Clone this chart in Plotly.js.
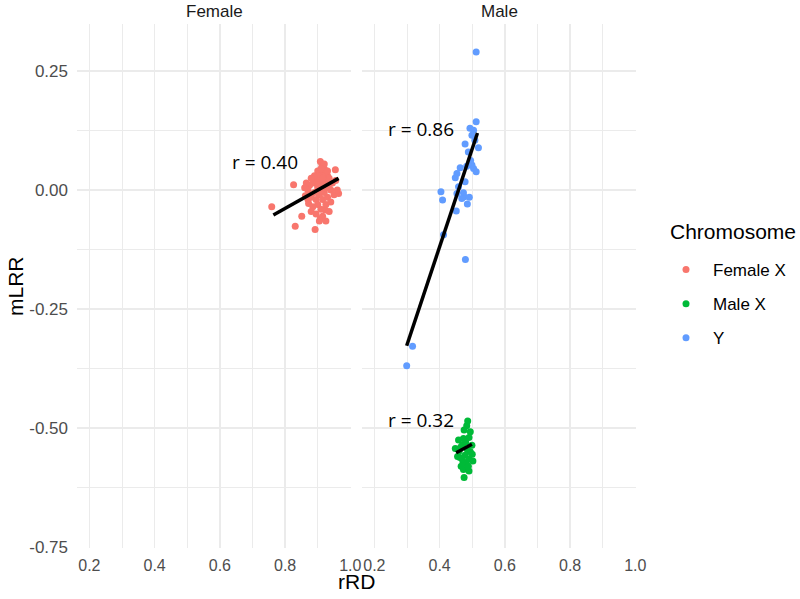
<!DOCTYPE html>
<html>
<head>
<meta charset="utf-8">
<script src="https://cdn.plot.ly/plotly-3.0.1.min.js"></script>
<style>html,body{margin:0;padding:0;background:#fff;}#chart{width:800px;height:599px;}</style>
</head>
<body>
<div id="chart"></div>
<script>
// ---- data ----
const femaleXrRD = [0.759,0.826,0.831,0.851,0.892,0.913,0.908,0.954,0.964,0.908,0.923,0.872,0.862,0.880,
  0.900,0.915,0.920,0.905,0.895,0.910,0.925,0.930,0.935,0.940,0.900,0.885,0.875,0.865,0.890,0.905,
  0.915,0.920,0.930,0.895,0.880,0.870,0.900,0.910,0.925,0.940,0.885,0.895,0.915,0.930,0.945,0.950,
  0.920,0.910,0.900,0.930,0.935,0.910,0.920,0.890,0.880,0.860,0.870,0.935,0.905,0.925,0.955,0.960,0.915,0.900];
const femaleXmLRR = [-0.035,0.011,-0.076,-0.055,-0.083,0.053,0.060,0.043,-0.007,-0.060,-0.042,-0.028,-0.012,-0.045,
  0.040,0.035,0.045,0.025,0.020,0.015,0.020,0.030,0.010,0.000,0.005,0.015,0.010,0.015,-0.005,-0.010,
  -0.020,-0.005,-0.015,-0.020,-0.015,0.000,-0.030,-0.040,-0.030,-0.025,-0.035,-0.050,-0.055,0.005,0.015,-0.010,
  0.055,0.045,0.030,0.040,0.025,0.000,0.010,0.030,0.025,0.005,-0.020,-0.045,-0.065,-0.065,0.020,0.000,0.025,0.010];

const maleXrRD = [0.486,0.475,0.494,0.483,0.458,0.473,0.490,0.448,0.465,0.499,0.494,0.478,0.460,0.455,
  0.470,0.485,0.502,0.471,0.482,0.466,0.490,0.473,0.490,0.475,0.480,0.500,0.462,0.488];
const maleXmLRR = [-0.485,-0.504,-0.508,-0.495,-0.525,-0.522,-0.520,-0.543,-0.540,-0.536,-0.550,-0.557,-0.548,-0.560,
  -0.535,-0.545,-0.569,-0.569,-0.575,-0.580,-0.565,-0.587,-0.590,-0.604,-0.530,-0.555,-0.562,-0.580];

const yRD = [0.512,0.512,0.493,0.504,0.499,0.478,0.519,0.488,0.463,0.483,0.499,0.504,0.512,0.453,0.448,
  0.478,0.458,0.404,0.409,0.453,0.473,0.475,0.491,0.468,0.485,0.451,0.412,0.479,0.317,0.299,0.508,0.495];
const yLRR = [0.290,0.1435,0.130,0.126,0.1155,0.0966,0.089,0.080,0.047,0.050,0.0525,0.0455,0.0385,0.035,0.026,
  0.0175,0.007,-0.0035,-0.021,-0.007,-0.0055,-0.014,-0.015,-0.0175,-0.029,-0.044,-0.094,-0.146,-0.328,-0.369,0.105,0.062];

// fitted lines (end points) and correlation labels
const fitFemaleX = [0.764, 0.964], fitFemaleY = [-0.0525, 0.0246];
const fitMaleXx  = [0.4506, 0.499], fitMaleXy  = [-0.552, -0.534];
const fitYx      = [0.299, 0.516],  fitYy      = [-0.327, 0.120];
const rLabels = ['r = 0.40', 'r = 0.86', 'r = 0.32'];
const rLabelX = [0.738, 0.342, 0.344];
const rLabelY = [0.059, 0.128, -0.483];

const xTicks = [0.2, 0.4, 0.6, 0.8, 1.0];
const xTickText = ['0.2', '0.4', '0.6', '0.8', '1.0'];
const yTicks = [0.25, 0, -0.25, -0.5, -0.75];
const yTickText = ['0.25', '0.00', '-0.25', '-0.50', '-0.75'];

const colFemaleX = '#F8766D', colMaleX = '#00BA38', colY = '#619CFF';

// ---- traces ----
const ms = 7;
const traces = [
  {x: femaleXrRD, y: femaleXmLRR, type: 'scatter', mode: 'markers', name: 'Female X', legendgroup: 'a',
   marker: {color: colFemaleX, size: ms}, xaxis: 'x', yaxis: 'y', hoverinfo: 'skip'},
  {x: maleXrRD, y: maleXmLRR, type: 'scatter', mode: 'markers', name: 'Male X', legendgroup: 'b',
   marker: {color: colMaleX, size: ms}, xaxis: 'x2', yaxis: 'y2', hoverinfo: 'skip'},
  {x: yRD, y: yLRR, type: 'scatter', mode: 'markers', name: 'Y', legendgroup: 'c',
   marker: {color: colY, size: ms}, xaxis: 'x2', yaxis: 'y2', hoverinfo: 'skip'},
  {x: fitFemaleX, y: fitFemaleY, type: 'scatter', mode: 'lines', showlegend: false,
   line: {color: '#000', width: 3.5}, xaxis: 'x', yaxis: 'y'},
  {x: fitMaleXx, y: fitMaleXy, type: 'scatter', mode: 'lines', showlegend: false,
   line: {color: '#000', width: 3.5}, xaxis: 'x2', yaxis: 'y2'},
  {x: fitYx, y: fitYy, type: 'scatter', mode: 'lines', showlegend: false,
   line: {color: '#000', width: 3.5}, xaxis: 'x2', yaxis: 'y2'}
];

const grid = '#EBEBEB';
const sans = 'Liberation Sans, Arial, sans-serif';
const xTickFont = {family: sans, size: 16, color: '#4D4D4D'};
const yTickFont = {family: sans, size: 17, color: '#4D4D4D'};
function xAxis(domain, anchor) {
  return {domain: domain, anchor: anchor, range: [0.162, 1.002], tickvals: xTicks, ticktext: xTickText,
    showgrid: true, gridcolor: grid, gridwidth: 1.6, zeroline: false, showline: false, ticks: '',
    tickfont: xTickFont, ticklabelstandoff: 6,
    minor: {dtick: 0.2, tick0: 0.1, showgrid: true, gridcolor: grid, gridwidth: 1, ticks: ''}};
}
function yAxis(anchor, showLabels, matches) {
  const a = {domain: [0.08514, 0.95993], anchor: anchor, range: [-0.752, 0.349], tickvals: yTicks, ticktext: yTickText,
    showticklabels: showLabels, showgrid: true, gridcolor: grid, gridwidth: 1.6, zeroline: false, showline: false,
    ticks: '', tickfont: yTickFont, ticklabelstandoff: 8,
    minor: {dtick: 0.25, tick0: 0.125, showgrid: true, gridcolor: grid, gridwidth: 1, ticks: ''}};
  if (matches) a.matches = matches;
  return a;
}

const annFont = {family: 'Open Sans, sans-serif', size: 19, color: '#000'};
function paperText(text, px, py, font, extra) {
  return Object.assign({text: text, x: px / 800, y: 1 - py / 599, xref: 'paper', yref: 'paper',
    xanchor: 'center', yanchor: 'middle', showarrow: false, font: font}, extra || {});
}
const annotations = [
  {text: rLabels[0], x: rLabelX[0], y: rLabelY[0], xref: 'x', yref: 'y', showarrow: false, font: annFont},
  {text: rLabels[1], x: rLabelX[1], y: rLabelY[1], xref: 'x2', yref: 'y2', showarrow: false, font: annFont},
  {text: rLabels[2], x: rLabelX[2], y: rLabelY[2], xref: 'x2', yref: 'y2', showarrow: false, font: annFont},
  paperText('Female', 214, 11, {family: sans, size: 17, color: '#1A1A1A'}),
  paperText('Male', 499, 11, {family: sans, size: 17, color: '#1A1A1A'}),
  paperText('rRD', 356.5, 581, {family: sans, size: 21, color: '#000'}),
  paperText('mLRR', 15, 286, {family: sans, size: 21, color: '#000'}, {textangle: -90}),
  paperText('Chromosome', 668, 231, {family: sans, size: 21, color: '#000'}, {xanchor: 'left'})
];

const layout = {
  width: 800, height: 599,
  margin: {l: 0, r: 0, t: 0, b: 0},
  paper_bgcolor: '#fff', plot_bgcolor: '#fff',
  showlegend: true,
  legend: {x: 659/800, xanchor: 'left', y: 1 - 252/599, yanchor: 'top',
    font: {family: sans, size: 17, color: '#000'}, itemwidth: 44,
    tracegroupgap: 9, bgcolor: 'rgba(0,0,0,0)'},
  xaxis: xAxis([77/800, 351/800], 'y'),
  yaxis: yAxis('x', true),
  xaxis2: xAxis([362/800, 636/800], 'y2'),
  yaxis2: yAxis('x2', false, 'y'),
  annotations: annotations
};

Plotly.newPlot('chart', traces, layout, {displayModeBar: false, staticPlot: true});
</script>
</body>
</html>
